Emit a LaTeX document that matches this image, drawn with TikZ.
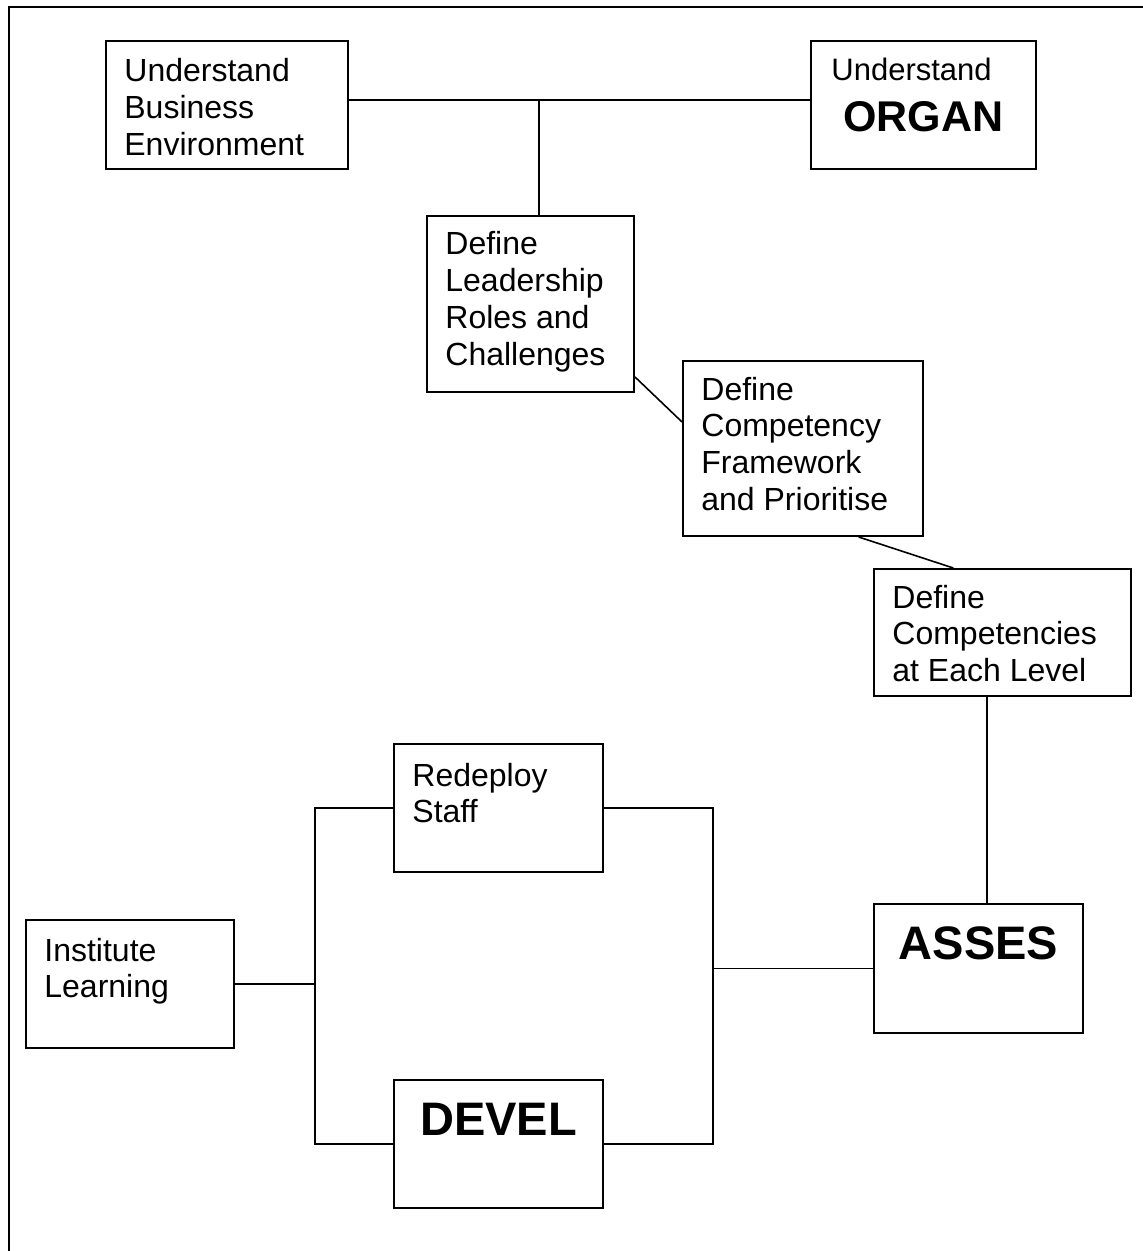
\documentclass[tikz,border=0pt]{standalone}
\usepackage{fontspec}
\setmainfont{Liberation Sans}
\usetikzlibrary{calc}
\begin{document}
\begin{tikzpicture}[x=0.5pt,y=-0.5pt,
  box/.style={draw, line width=1pt, inner sep=0pt, anchor=north west, rectangle},
  txt/.style={anchor=base west, inner sep=0pt, align=left, font=\fontsize{16pt}{18.4pt}\selectfont},
  big/.style={anchor=base, inner sep=0pt, font=\fontsize{23.5pt}{26pt}\selectfont\bfseries},
  link/.style={line width=0.8pt}]
\useasboundingbox (0,0) rectangle (1143,1251);
\fill[white] (0,0) rectangle (1143,1251);
% page frame
\draw[line width=1pt] (1143,7) -- (9,7) -- (9,1251);

% boxes
\node[box, minimum width=121pt,   minimum height=64pt]   (b1) at (105,40) {};
\node[box, minimum width=112.5pt, minimum height=64pt]   (b2) at (810,40) {};
\node[box, minimum width=103.5pt, minimum height=88pt]   (b3) at (426,215) {};
\node[box, minimum width=120pt,   minimum height=87.5pt] (b4) at (682,360) {};
\node[box, minimum width=128.5pt, minimum height=63.5pt] (b5) at (873,568) {};
\node[box, minimum width=104.5pt, minimum height=64pt]   (redeploy) at (393,743) {};
\node[box, minimum width=104pt,   minimum height=64pt]   (institute) at (25,919) {};
\node[box, minimum width=104.5pt, minimum height=64.5pt] (asses) at (873,903) {};
\node[box, minimum width=104.5pt, minimum height=64pt]   (devel) at (393,1079) {};

% texts (anchored at the baseline of their last line)
\node[txt] (t1) at ($(b1.north west)+(19,115.6)$) {Understand\\Business\\Environment};
\node[txt, font=\fontsize{15.5pt}{17pt}\selectfont] (t2) at ($(b2.north west)+(21,41)$) {Understand};
\node[big, font=\fontsize{21.5pt}{24pt}\selectfont\bfseries] (t2b) at ($(b2.north)+(0,92)$) {ORGAN};
\node[txt] (t3) at ($(b3.north west)+(19,150.4)$) {Define\\Leadership\\Roles and\\Challenges};
\node[txt] (t4) at ($(b4.north west)+(19,150.4)$) {Define\\Competency\\Framework\\and Prioritise};
\node[txt] (t5) at ($(b5.north west)+(19,113.6)$) {Define\\Competencies\\at Each Level};
\node[txt] (t6) at ($(redeploy.north west)+(19,79.8)$) {Redeploy\\Staff};
\node[txt] (t7) at ($(institute.north west)+(19,78.8)$) {Institute\\Learning};
\node[big] (t8) at ($(asses.north)+(0,56)$) {ASSES};
\node[big] (t9) at ($(devel.north)+(0,56)$) {DEVEL};

% junctions
\coordinate (jt) at (539,100);
\path (asses.west) ++(-160,0) coordinate (jr);
\path (institute.east) ++(80,0) coordinate (jl);
\coordinate (ja) at ($(asses.north west)!0.54!(asses.north east)$);

% connectors
\draw[link] (b1.east |- jt) -- (b2.west |- jt);
\draw[link] (jt) -- (b3.north -| jt);
\draw[link] ($(b3.north east)!0.91!(b3.south east)$) -- ($(b4.north west)!0.35!(b4.south west)$);
\draw[link] ($(b4.south west)!0.73!(b4.south east)$) -- ($(b5.north west)!0.31!(b5.north east)$);
\draw[link] (ja) -- (ja |- b5.south);
\draw[link] (asses.west) -- (jr);
\draw[link] (redeploy.east) -| (jr) |- (devel.east);
\draw[link] (institute.east) -- (jl);
\draw[link] (redeploy.west) -| (jl) |- (devel.west);
\end{tikzpicture}
\end{document}
